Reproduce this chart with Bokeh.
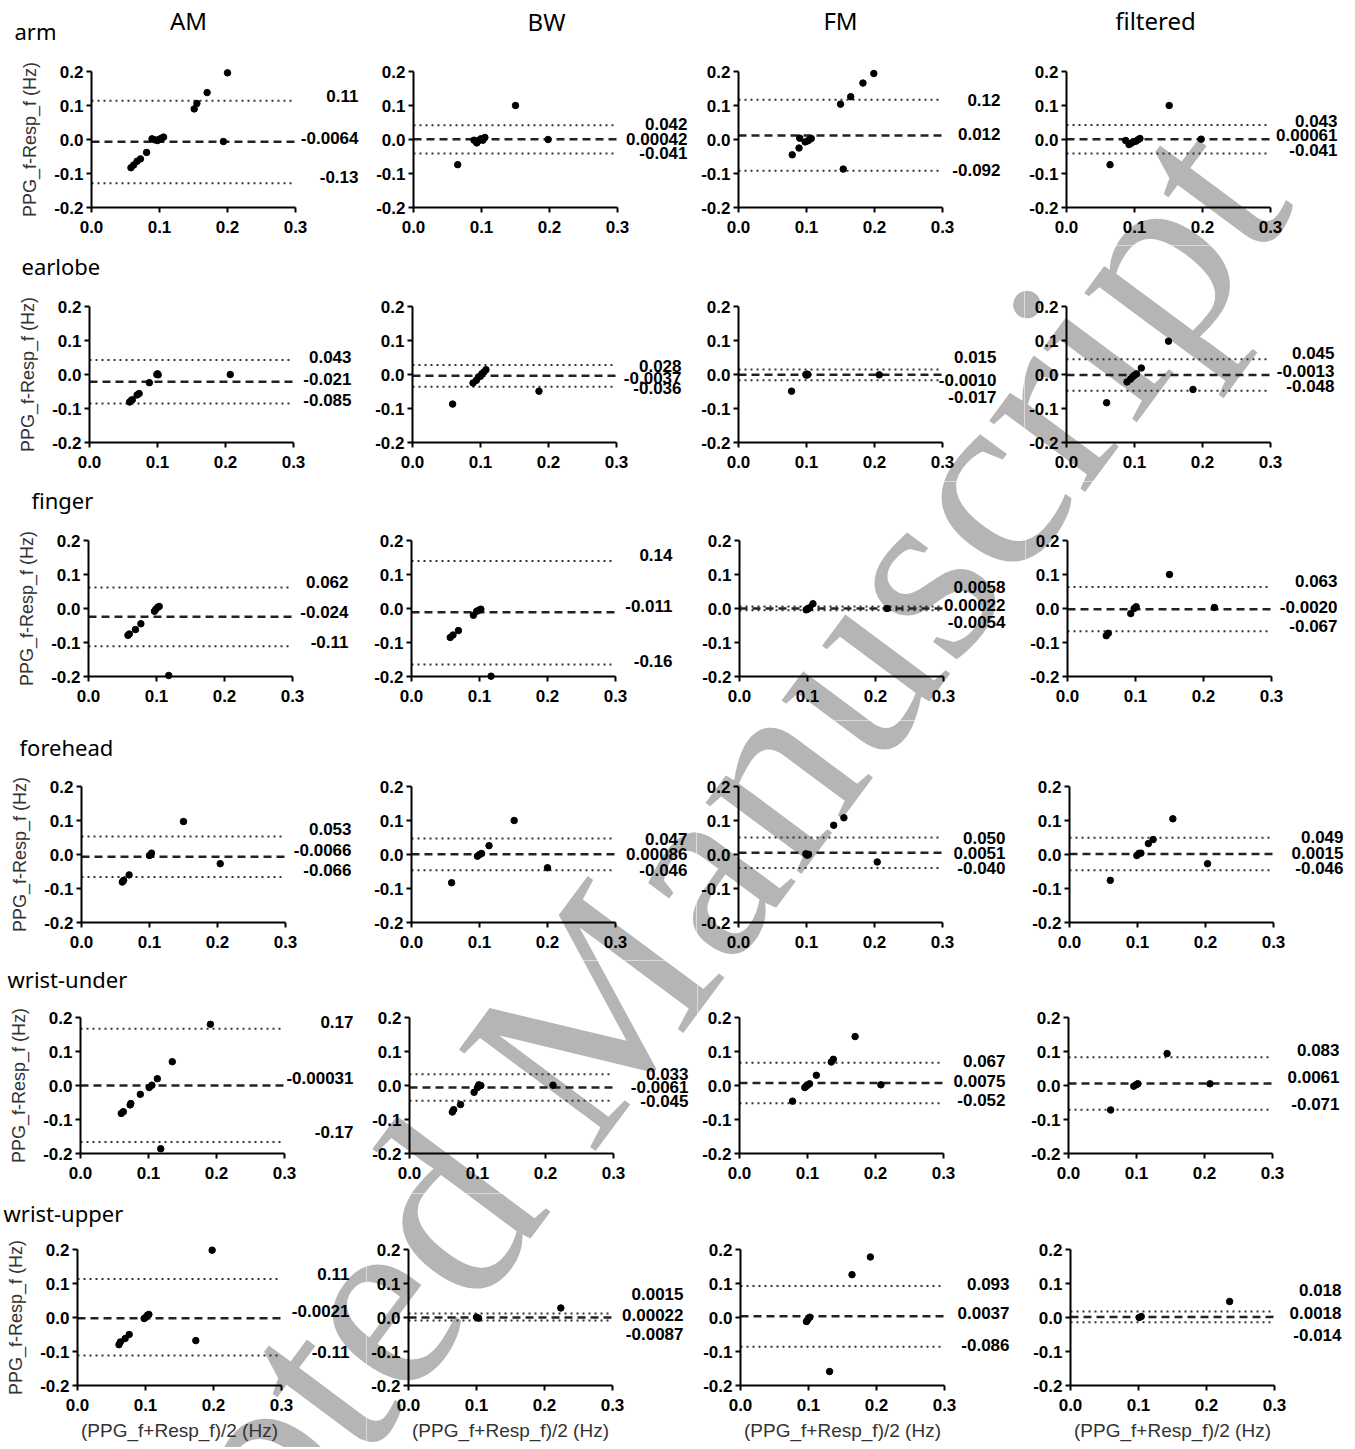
import math
from bokeh.plotting import figure
from bokeh.layouts import column, row
from bokeh.models import Range1d, FixedTicker, PrintfTickFormatter, Label
from bokeh.embed import file_html
from bokeh.resources import INLINE

sites = ["arm", "earlobe", "finger", "forehead", "wrist-under", "wrist-upper"]
methods = ["AM", "BW", "FM", "filtered"]
x_ticks = [0.0, 0.1, 0.2, 0.3]
y_ticks = [-0.2, -0.1, 0.0, 0.1, 0.2]
y_title = "PPG_f-Resp_f (Hz)"
x_title = "(PPG_f+Resp_f)/2 (Hz)"
watermark_words = ["Accepted", "Manuscript"]

# ---- points: mean (x) and difference (y) per site / method ----
arm_am_mean = [0.058, 0.062, 0.067, 0.072, 0.081, 0.089, 0.093, 0.097, 0.100, 0.103, 0.106, 0.151, 0.155, 0.170, 0.200, 0.194]
arm_am_diff = [-0.083, -0.075, -0.064, -0.057, -0.038, 0.002, -0.001, -0.003, 0.001, 0.004, 0.007, 0.090, 0.106, 0.138, 0.196, -0.006]
arm_bw_mean = [0.065, 0.089, 0.093, 0.096, 0.099, 0.102, 0.105, 0.150, 0.198]
arm_bw_diff = [-0.074, -0.002, -0.010, -0.003, 0.002, -0.002, 0.006, 0.100, 0.000]
arm_fm_mean = [0.079, 0.089, 0.090, 0.098, 0.102, 0.105, 0.107, 0.150, 0.165, 0.183, 0.199, 0.154]
arm_fm_diff = [-0.045, -0.025, 0.004, -0.007, -0.004, 0.001, 0.003, 0.104, 0.126, 0.166, 0.194, -0.087]
arm_fi_mean = [0.064, 0.087, 0.092, 0.095, 0.098, 0.102, 0.105, 0.108, 0.151, 0.198]
arm_fi_diff = [-0.074, -0.003, -0.015, -0.011, -0.007, -0.005, -0.001, 0.003, 0.100, 0.001]

earlobe_am_mean = [0.059, 0.061, 0.063, 0.070, 0.073, 0.088, 0.099, 0.100, 0.101, 0.207]
earlobe_am_diff = [-0.081, -0.077, -0.074, -0.060, -0.056, -0.024, 0.0, 0.002, -0.001, 0.0]
earlobe_bw_mean = [0.059, 0.089, 0.094, 0.097, 0.100, 0.102, 0.105, 0.108, 0.186]
earlobe_bw_diff = [-0.087, -0.025, -0.017, -0.007, -0.005, 0.002, 0.007, 0.014, -0.049]
earlobe_fm_mean = [0.078, 0.099, 0.100, 0.101, 0.102, 0.207]
earlobe_fm_diff = [-0.049, 0.0, -0.002, 0.001, 0.0, -0.001]
earlobe_fi_mean = [0.059, 0.089, 0.094, 0.097, 0.100, 0.103, 0.110, 0.150, 0.186]
earlobe_fi_diff = [-0.083, -0.022, -0.014, -0.007, -0.002, 0.002, 0.019, 0.098, -0.044]

finger_am_mean = [0.058, 0.060, 0.069, 0.077, 0.097, 0.099, 0.102, 0.104, 0.118]
finger_am_diff = [-0.079, -0.075, -0.062, -0.045, -0.008, -0.002, 0.004, 0.006, -0.197]
finger_bw_mean = [0.057, 0.061, 0.069, 0.091, 0.096, 0.099, 0.102, 0.117]
finger_bw_diff = [-0.085, -0.078, -0.065, -0.020, -0.008, -0.005, -0.002, -0.199]
finger_fm_mean = [0.098, 0.100, 0.101, 0.103, 0.108, 0.217]
finger_fm_diff = [-0.004, -0.002, 0.0, 0.002, 0.014, 0.0]
finger_fi_mean = [0.057, 0.060, 0.093, 0.098, 0.101, 0.150, 0.216]
finger_fi_diff = [-0.080, -0.073, -0.015, 0.0, 0.005, 0.100, 0.003]

forehead_am_mean = [0.060, 0.062, 0.070, 0.100, 0.103, 0.150, 0.204]
forehead_am_diff = [-0.081, -0.076, -0.060, -0.003, 0.004, 0.097, -0.027]
forehead_bw_mean = [0.059, 0.097, 0.100, 0.103, 0.114, 0.151, 0.200]
forehead_bw_diff = [-0.083, -0.005, 0.0, 0.003, 0.026, 0.100, -0.039]
forehead_fm_mean = [0.099, 0.101, 0.103, 0.140, 0.155, 0.204]
forehead_fm_diff = [0.002, -0.002, 0.0, 0.086, 0.108, -0.022]
forehead_fi_mean = [0.060, 0.099, 0.102, 0.105, 0.116, 0.123, 0.152, 0.203]
forehead_fi_diff = [-0.076, -0.003, 0.003, 0.004, 0.032, 0.044, 0.105, -0.027]

wristunder_am_mean = [0.060, 0.063, 0.073, 0.074, 0.088, 0.101, 0.105, 0.113, 0.135, 0.191, 0.118]
wristunder_am_diff = [-0.082, -0.077, -0.057, -0.053, -0.026, -0.006, 0.001, 0.020, 0.070, 0.180, -0.186]
wristunder_bw_mean = [0.063, 0.065, 0.075, 0.095, 0.100, 0.102, 0.105, 0.211]
wristunder_bw_diff = [-0.078, -0.071, -0.056, -0.020, -0.006, 0.002, 0.000, 0.001]
wristunder_fm_mean = [0.078, 0.096, 0.098, 0.100, 0.103, 0.113, 0.135, 0.138, 0.170, 0.208]
wristunder_fm_diff = [-0.046, -0.006, -0.002, 0.001, 0.005, 0.030, 0.069, 0.077, 0.144, 0.002]
wristunder_fi_mean = [0.062, 0.096, 0.100, 0.102, 0.145, 0.208]
wristunder_fi_diff = [-0.072, -0.002, 0.003, 0.005, 0.094, 0.005]

wristupper_am_mean = [0.061, 0.063, 0.070, 0.076, 0.098, 0.100, 0.103, 0.105, 0.174, 0.198]
wristupper_am_diff = [-0.080, -0.072, -0.062, -0.050, -0.003, 0.0, 0.007, 0.009, -0.068, 0.198]
wristupper_bw_mean = [0.100, 0.103, 0.224]
wristupper_bw_diff = [0.001, -0.002, 0.028]
wristupper_fm_mean = [0.097, 0.099, 0.102, 0.131, 0.164, 0.191]
wristupper_fm_diff = [-0.012, -0.006, 0.001, -0.159, 0.126, 0.178]
wristupper_fi_mean = [0.101, 0.104, 0.234]
wristupper_fi_diff = [0.0, 0.003, 0.047]

# ---- limits of agreement and bias (per site, columns AM, BW, FM, filtered) ----
arm_upper = [0.114, 0.042, 0.117, 0.043]
arm_bias = [-0.0064, 0.00042, 0.012, 0.00061]
arm_lower = [-0.129, -0.041, -0.092, -0.041]
arm_text = [["0.11", "-0.0064", "-0.13"], ["0.042", "0.00042", "-0.041"],
            ["0.12", "0.012", "-0.092"], ["0.043", "0.00061", "-0.041"]]

earlobe_upper = [0.043, 0.028, 0.015, 0.045]
earlobe_bias = [-0.021, -0.0037, -0.0010, -0.0013]
earlobe_lower = [-0.085, -0.036, -0.017, -0.048]
earlobe_text = [["0.043", "-0.021", "-0.085"], ["0.028", "-0.0037", "-0.036"],
                ["0.015", "-0.0010", "-0.017"], ["0.045", "-0.0013", "-0.048"]]

finger_upper = [0.062, 0.14, 0.0058, 0.063]
finger_bias = [-0.024, -0.011, 0.00022, -0.0020]
finger_lower = [-0.111, -0.165, -0.0054, -0.067]
finger_text = [["0.062", "-0.024", "-0.11"], ["0.14", "-0.011", "-0.16"],
               ["0.0058", "0.00022", "-0.0054"], ["0.063", "-0.0020", "-0.067"]]

forehead_upper = [0.053, 0.047, 0.050, 0.049]
forehead_bias = [-0.0066, 0.00086, 0.0051, 0.0015]
forehead_lower = [-0.066, -0.046, -0.040, -0.046]
forehead_text = [["0.053", "-0.0066", "-0.066"], ["0.047", "0.00086", "-0.046"],
                 ["0.050", "0.0051", "-0.040"], ["0.049", "0.0015", "-0.046"]]

wristunder_upper = [0.167, 0.033, 0.067, 0.083]
wristunder_bias = [-0.00031, -0.0061, 0.0075, 0.0061]
wristunder_lower = [-0.166, -0.045, -0.052, -0.071]
wristunder_text = [["0.17", "-0.00031", "-0.17"], ["0.033", "-0.0061", "-0.045"],
                   ["0.067", "0.0075", "-0.052"], ["0.083", "0.0061", "-0.071"]]

wristupper_upper = [0.113, 0.012, 0.093, 0.018]
wristupper_bias = [-0.0021, 0.00022, 0.0037, 0.0018]
wristupper_lower = [-0.112, -0.0087, -0.086, -0.014]
wristupper_text = [["0.11", "-0.0021", "-0.11"], ["0.0015", "0.00022", "-0.0087"],
                   ["0.093", "0.0037", "-0.086"], ["0.018", "0.0018", "-0.014"]]

# ---- assemble lookups from the named arrays ----
points = {
    "arm": [(arm_am_mean, arm_am_diff), (arm_bw_mean, arm_bw_diff), (arm_fm_mean, arm_fm_diff), (arm_fi_mean, arm_fi_diff)],
    "earlobe": [(earlobe_am_mean, earlobe_am_diff), (earlobe_bw_mean, earlobe_bw_diff), (earlobe_fm_mean, earlobe_fm_diff), (earlobe_fi_mean, earlobe_fi_diff)],
    "finger": [(finger_am_mean, finger_am_diff), (finger_bw_mean, finger_bw_diff), (finger_fm_mean, finger_fm_diff), (finger_fi_mean, finger_fi_diff)],
    "forehead": [(forehead_am_mean, forehead_am_diff), (forehead_bw_mean, forehead_bw_diff), (forehead_fm_mean, forehead_fm_diff), (forehead_fi_mean, forehead_fi_diff)],
    "wrist-under": [(wristunder_am_mean, wristunder_am_diff), (wristunder_bw_mean, wristunder_bw_diff), (wristunder_fm_mean, wristunder_fm_diff), (wristunder_fi_mean, wristunder_fi_diff)],
    "wrist-upper": [(wristupper_am_mean, wristupper_am_diff), (wristupper_bw_mean, wristupper_bw_diff), (wristupper_fm_mean, wristupper_fm_diff), (wristupper_fi_mean, wristupper_fi_diff)],
}
stats = {
    "arm": (arm_upper, arm_bias, arm_lower, arm_text),
    "earlobe": (earlobe_upper, earlobe_bias, earlobe_lower, earlobe_text),
    "finger": (finger_upper, finger_bias, finger_lower, finger_text),
    "forehead": (forehead_upper, forehead_bias, forehead_lower, forehead_text),
    "wrist-under": (wristunder_upper, wristunder_bias, wristunder_lower, wristunder_text),
    "wrist-upper": (wristupper_upper, wristupper_bias, wristupper_lower, wristupper_text),
}

# ---- layout (pixel geometry on the page) ----
ORIGIN = 0
FRAME_W, FRAME_H = 204, 136
axis_x = [[91, 413, 738, 1066], [89, 412, 738, 1066], [88, 411, 739, 1067],
          [81, 411, 738, 1069], [80, 409, 739, 1068], [77, 408, 740, 1070]]
frame_top = [71, 306, 540, 786, 1017, 1249]
row_edges = [ORIGIN, 245, 481, 720, 960, 1193, 1447]
PAGE_RIGHT = 1350
label_dx = [[63, 70, 58, 67], [58, 65, 54, 64], [56, 57, 62, 66],
            [66, 72, 63, 70], [69, 75, 62, 67], [68, 71, 65, 67]]
label_dy = [
    [[-5, -4, -6], [-1, 0, 0], [0, -1, -1], [-4, -4, -3]],
    [[-3, -3, -3], [1, 2, 1], [-12, 5, 17], [-6, -4, -5]],
    [[-5, -5, -4], [-6, -6, -4], [-20, -3, 12], [-6, -2, -5]],
    [[-7, -7, -7], [0, 0, 0], [0, 0, 0], [-1, -1, -2]],
    [[-7, -8, -10], [0, -1, 0], [-2, -2, -3], [-7, -6, -6]],
    [[-5, -7, -4], [-19, -2, 14], [-2, -3, -2], [-21, -4, 13]],
]
site_label_pos = [(-77, 41), (-68, 41), (-57, 41), (-62, 40), (-73, 39), (-74, 37)]
method_title_pos = [(97, 51), (133, 50), (102, 51), (89, 51)]

# watermark geometry (page pixels): baseline start of the second word, angle, size
WM_ANGLE = math.radians(53.4)
WM_SIZE = 260
WM_START = (520.0, 1104.0)
WM_GAP = 0.25 * WM_SIZE
WM_UX, WM_UY = math.cos(WM_ANGLE), -math.sin(WM_ANGLE)   # along the baseline (page px)
WM_NX, WM_NY = -math.sin(WM_ANGLE), -math.cos(WM_ANGLE)  # glyph "up" direction (page px)
wm_anchor_b = WM_START
wm_anchor_a = (WM_START[0] - WM_GAP * WM_UX, WM_START[1] - WM_GAP * WM_UY)
wm_extent = [(-3.9 * WM_SIZE, 0.0), (0.0, 4.7 * WM_SIZE)]  # along-baseline spans of the two words


def word_box(anchor, a0, a1):
    b0, b1 = -0.6 * WM_SIZE, 0.75 * WM_SIZE
    return [(anchor[0] + a * WM_UX + b * WM_NX, anchor[1] + a * WM_UY + b * WM_NY)
            for a, b in ((a0, b0), (a1, b0), (a1, b1), (a0, b1))]


def polys_intersect(p1, p2):
    for poly in (p1, p2):
        for i in range(len(poly)):
            x1, y1 = poly[i]
            x2, y2 = poly[(i + 1) % len(poly)]
            nx, ny = y2 - y1, x1 - x2
            s1 = [nx * x + ny * y for x, y in p1]
            s2 = [nx * x + ny * y for x, y in p2]
            if max(s1) < min(s2) or max(s2) < min(s1):
                return False
    return True


TICK_FONT = "Liberation Sans"
TITLE_FONT = "Noto Sans"
X_SPAN = x_ticks[-1] - x_ticks[0]
Y_SPAN = y_ticks[-1] - y_ticks[0]

rows = []
for r, site in enumerate(sites):
    ax = axis_x[r]
    starts = [ORIGIN, ax[1] - 42, ax[2] - 42, ax[3] - 42, PAGE_RIGHT]
    top, bottom = row_edges[r], row_edges[r + 1]
    ppy = FRAME_H / Y_SPAN
    y_lo = y_ticks[0] - (bottom - (frame_top[r] + FRAME_H)) / ppy
    y_hi = y_ticks[-1] + (frame_top[r] - top) / ppy
    up, bias, low, txt = stats[site]
    figs = []
    for c, meth in enumerate(methods):
        left, right = starts[c], starts[c + 1]
        ppx = FRAME_W / X_SPAN
        x_lo = x_ticks[0] - (ax[c] - left) / ppx
        x_hi = x_ticks[0] + (right - ax[c]) / ppx
        p = figure(frame_width=right - left, frame_height=bottom - top,
                   x_range=Range1d(x_lo, x_hi), y_range=Range1d(y_lo, y_hi),
                   min_border=0, output_backend="svg", toolbar_location=None)
        p.outline_line_color = None
        p.xgrid.visible = False
        p.ygrid.visible = False

        # watermark, drawn beneath everything; each cell that it crosses paints its own piece
        cell = [(left, top), (right, top), (right, bottom), (left, bottom)]
        for word, anchor, align, (a0, a1) in ((watermark_words[0], wm_anchor_a, "right", wm_extent[0]),
                                              (watermark_words[1], wm_anchor_b, "left", wm_extent[1])):
            if not polys_intersect(word_box(anchor, a0, a1), cell):
                continue
            p.add_layout(Label(x=x_ticks[0], y=y_ticks[-1],
                               x_offset=anchor[0] - ax[c], y_offset=frame_top[r] - anchor[1],
                               text=word, angle=WM_ANGLE, text_font="Liberation Serif",
                               text_font_size=f"{WM_SIZE}px", text_color="#b5b5b5",
                               text_align=align, text_baseline="alphabetic", level="underlay"))

        p.xaxis.ticker = FixedTicker(ticks=x_ticks)
        p.yaxis.ticker = FixedTicker(ticks=y_ticks)
        p.xaxis.fixed_location = y_ticks[0]
        p.yaxis.fixed_location = x_ticks[0]
        p.xaxis.bounds = (x_ticks[0], x_ticks[-1])
        p.yaxis.bounds = (y_ticks[0], y_ticks[-1])
        for a in (p.xaxis[0], p.yaxis[0]):
            a.formatter = PrintfTickFormatter(format="%.1f")
            a.axis_line_width = 2
            a.axis_line_color = "black"
            a.major_tick_line_width = 2
            a.major_tick_line_color = "black"
            a.major_tick_out = 5
            a.major_tick_in = 0
            a.minor_tick_line_color = None
            a.major_label_text_font = TICK_FONT
            a.major_label_text_font_style = "bold"
            a.major_label_text_font_size = "17px"
            a.major_label_text_color = "black"
        p.xaxis.major_label_standoff = 8
        p.yaxis.major_label_standoff = 3

        if c == 0:
            p.yaxis.axis_label = y_title
            p.yaxis.axis_label_text_font = TICK_FONT
            p.yaxis.axis_label_text_font_style = "normal"
            p.yaxis.axis_label_text_font_size = "18px"
            p.yaxis.axis_label_text_color = "#333333"
            p.yaxis.axis_label_standoff = 11
            sx, sy = site_label_pos[r]
            p.add_layout(Label(x=x_ticks[0], y=y_ticks[-1], x_offset=sx, y_offset=sy, text=site,
                               text_font=TITLE_FONT, text_font_size="22px",
                               text_align="left", text_baseline="middle", text_color="black"))
        if r == len(sites) - 1:
            p.xaxis.axis_label = x_title
            p.xaxis.axis_label_text_font = TICK_FONT
            p.xaxis.axis_label_text_font_style = "normal"
            p.xaxis.axis_label_text_font_size = "19px"
            p.xaxis.axis_label_text_color = "#333333"
            p.xaxis.axis_label_standoff = 6
        if r == 0:
            tx, ty = method_title_pos[c]
            p.add_layout(Label(x=x_ticks[0], y=y_ticks[-1], x_offset=tx, y_offset=ty, text=meth,
                               text_font=TITLE_FONT, text_font_size="24px",
                               text_align="center", text_baseline="middle", text_color="black"))

        # limits of agreement (dotted) and bias (dashed), drawn across the axis extent
        for v, dash, lw, col in ((up[c], "2 4", 2, "#333333"), (low[c], "2 4", 2, "#333333"),
                                 (bias[c], "8 5", 2.5, "#222222")):
            p.segment(x0=[x_ticks[0]], x1=[x_ticks[-1]], y0=[v], y1=[v],
                      line_color=col, line_width=lw, line_dash=dash)

        xs, ys = points[site][c]
        p.scatter(xs, ys, size=6.5, color="black")

        for k, v in enumerate((up[c], bias[c], low[c])):
            p.add_layout(Label(x=x_ticks[-1], y=v, x_offset=label_dx[r][c], y_offset=-label_dy[r][c][k],
                               text=txt[c][k], text_font=TICK_FONT, text_font_style="bold",
                               text_font_size="17px", text_align="right",
                               text_baseline="middle", text_color="black"))
        figs.append(p)
    rows.append(row(*figs, spacing=0))

layout = column(*rows, spacing=0)
open("out.html", "w").write(file_html(layout, INLINE))
